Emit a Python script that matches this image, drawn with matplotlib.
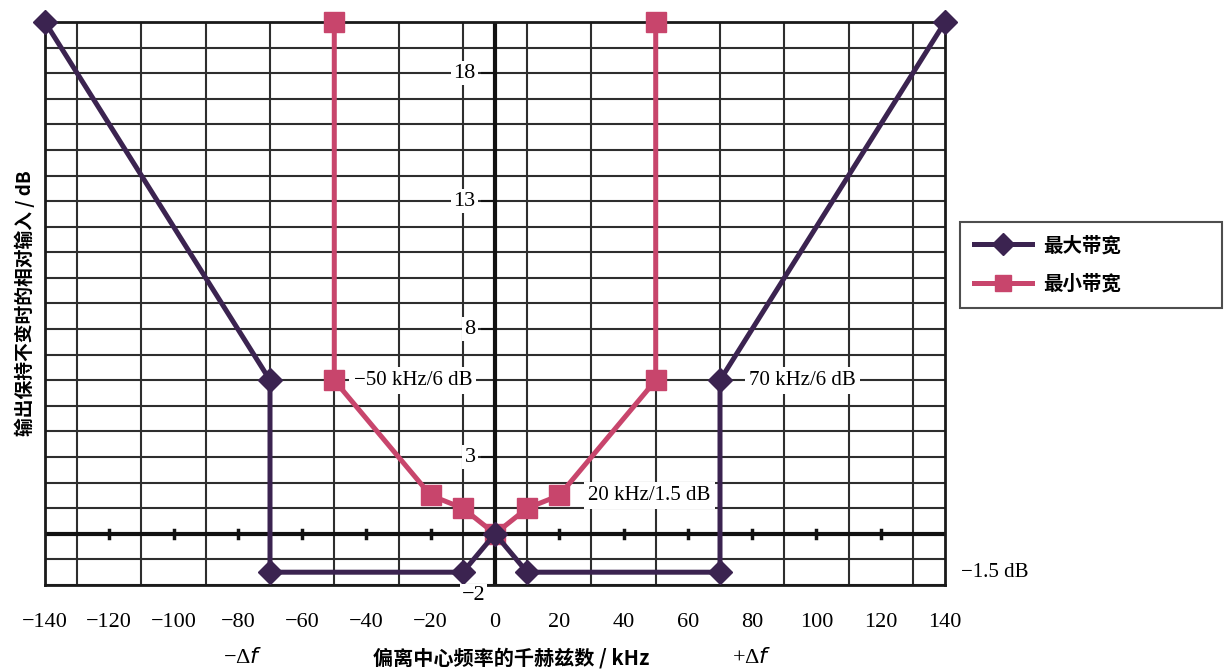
import numpy as np
import matplotlib
matplotlib.use("Agg")
import matplotlib.pyplot as plt

# data
x_max = [-140, -70, -70, -10, 0, 10, 70, 70, 140]
y_max = [20, 6, -1.5, -1.5, 0, -1.5, -1.5, 6, 20]
x_min = [-50, -50, -20, -10, 0, 10, 20, 50, 50]
y_min = [20, 6, 1.5, 1, 0, 1, 1.5, 6, 20]
xticks = list(range(-140, 141, 20))
yticks = [-2, 3, 8, 13, 18]
labels = ["最大带宽", "最小带宽"]
notes = [(-44, 6, "−50 kHz/6 dB"), (79, 6, "70 kHz/6 dB"), (29, 1.5, "20 kHz/1.5 dB")]

c_max = "#3b2350"
c_min = "#c8456c"
grid_c = "#2e2e2e"
serif = ["Liberation Serif", "DejaVu Serif"]
cjk = ["Noto Sans CJK SC", "DejaVu Sans"]

fig = plt.figure(figsize=(12.32, 6.70), dpi=100)
ax = fig.add_axes([45/1232, 1-585/670, 900/1232, 563/670])
ax.set_xlim(-140, 140)
ax.set_ylim(-2, 20)

# grid
ax.set_xticks(np.arange(-140, 141, 10), minor=True)
ax.set_yticks(np.arange(-2, 21, 1), minor=True)
ax.grid(True, which="minor", color=grid_c, lw=1.5, zorder=1)
ax.set_xticks(xticks)
ax.set_xticklabels([f"{v}".replace("-", "−") for v in xticks], fontfamily=serif, fontsize=16)
ax.tick_params(axis="x", which="both", length=0, pad=20)
ax.set_yticks([])
ax.tick_params(axis="y", which="minor", length=0)
for s in ax.spines.values():
    s.set_color("#1a1a1a"); s.set_linewidth(2)

ax.axhline(0, color="#111111", lw=3, zorder=2)
ax.axvline(0, color="#111111", lw=3, zorder=2)
# tick dots on y=0 line
for v in xticks[1:-1]:
    ax.plot([v, v], [-0.15, 0.15], color="#111111", lw=2.5, zorder=2)

ax.plot(x_max, y_max, color=c_max, lw=3.6, marker="D", ms=12, mfc=c_max, mec=c_max,
        zorder=4, clip_on=False, label=labels[0])
ax.plot(x_min, y_min, color=c_min, lw=3.6, marker="s", ms=14, mfc=c_min, mec=c_min,
        zorder=3, clip_on=False, label=labels[1])

# y tick labels beside the centre line
for v in yticks:
    if v == -2:
        ax.text(-3, v - 0.4, "−2", ha="right", va="center", fontfamily=serif, fontsize=16,
                bbox=dict(fc="white", ec="none", pad=1), zorder=5, clip_on=False)
    else:
        ax.plot([-4, 0], [v, v], color="#111111", lw=1.5, zorder=2)
        ax.text(-6, v, str(v), ha="right", va="center", fontfamily=serif, fontsize=16,
                bbox=dict(fc="white", ec="none", pad=2), zorder=5)

for x, y, t in notes:
    ax.text(x, y, t, ha="left", va="center", fontfamily=serif, fontsize=15,
            bbox=dict(fc="white", ec="none", pad=3), zorder=5)

ax.text(145, -1.5, "−1.5 dB", ha="left", va="center", fontfamily=serif, fontsize=15,
        clip_on=False)

ax.set_ylabel("输出保持不变时的相对输入 / dB", fontfamily=cjk, fontsize=13.5, fontweight="bold",
              labelpad=4)
ax.text(-78.5, -4.85, "−Δ$f$", ha="center", va="center", fontfamily=serif, fontsize=16, clip_on=False)
ax.text(80, -4.85, "+Δ$f$", ha="center", va="center", fontfamily=serif, fontsize=16, clip_on=False)
ax.text(5, -4.85, "偏离中心频率的千赫兹数 / kHz", ha="center", va="center", fontfamily=cjk,
        fontsize=14.5, fontweight="bold", clip_on=False)

leg = fig.legend(loc="upper left", bbox_to_anchor=(960/1232, 1-312/670, 262/1232, 90/670),
                 mode="expand", frameon=True, fancybox=False, edgecolor="#222222",
                 handlelength=3.0, handletextpad=0.6, borderpad=0.7, labelspacing=1.0,
                 prop={"family": cjk, "size": 14, "weight": "bold"}, borderaxespad=0)
leg.get_frame().set_linewidth(1.5)
for h in leg.legend_handles:
    h.set_markersize(11)

fig.savefig("out.png", dpi=100)
